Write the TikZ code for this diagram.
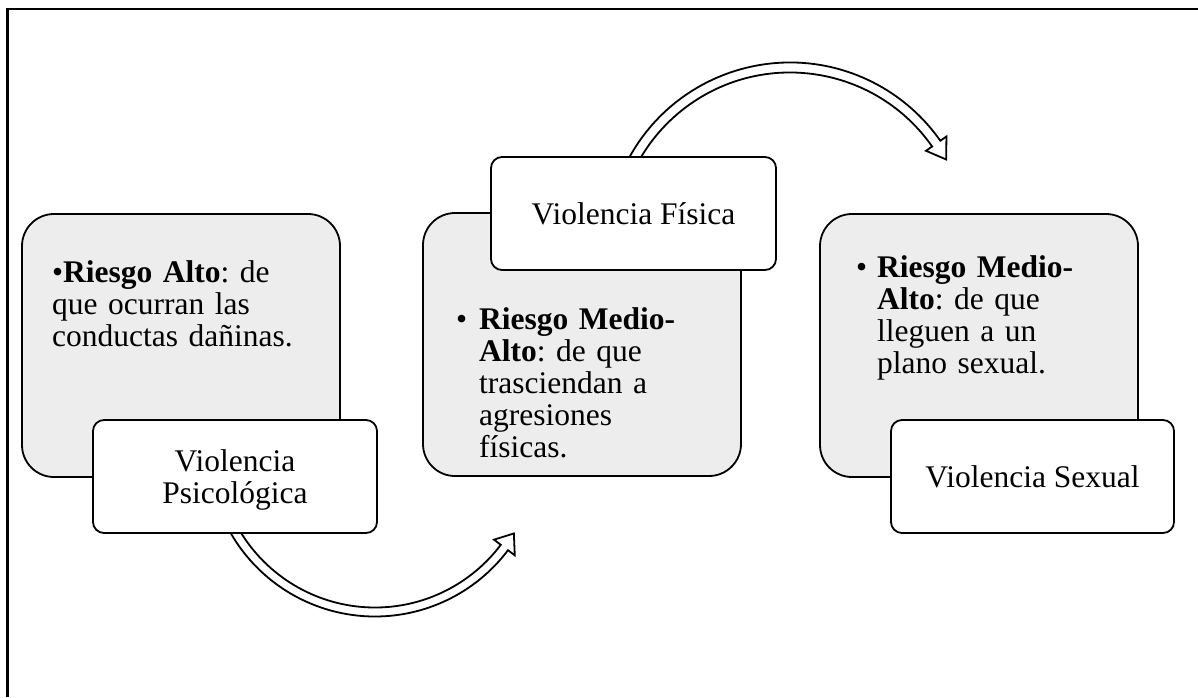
\documentclass[tikz,border=0pt]{standalone}
\usepackage{fontspec}
\setmainfont{Liberation Serif}
\usetikzlibrary{calc}
\definecolor{boxgray}{HTML}{EDEDED}
\frenchspacing
\begin{document}
\begin{tikzpicture}[x=1pt,y=-1pt,
  graybox/.style={draw=black, line width=1.8pt, fill=boxgray, rounded corners=32pt, minimum width=318pt, minimum height=263pt, inner sep=0pt},
  labelbox/.style={draw=black, line width=1.8pt, fill=white, rounded corners=11pt, minimum height=113pt, inner sep=0pt, align=center, font=\fontsize{31.5}{32}\selectfont\frenchspacing},
  bodytext/.style={anchor=base west, inner sep=0pt, text width=300pt, align=left, font=\fontsize{31.5}{32.2}\selectfont\frenchspacing},
  blockarrow/.style={draw=black, line width=1.8pt, fill=white, line join=miter}
]
\useasboundingbox (0,0) rectangle (1198,697);
% page frame
\draw[line width=2.5pt] (7.5,697) -- (7.5,9) -- (1198,9);

% curved block arrows (behind the boxes)
\coordinate (c1) at (375,450);
\coordinate (c2) at (790,246);
\draw[blockarrow] (c1) ++(152:166.5) arc[start angle=152, end angle=37, radius=166.5]
  -- ($(c1)+(37:175)$) -- ($(c1)+(31:162)$) -- ($(c1)+(37:149)$) -- ($(c1)+(37:157.5)$)
  arc[start angle=37, end angle=152, radius=157.5] -- cycle;
\draw[blockarrow] (c2) ++(207:183.5) arc[start angle=207, end angle=325, radius=183.5]
  -- ($(c2)+(325:191)$) -- ($(c2)+(331:178.5)$) -- ($(c2)+(325:166)$) -- ($(c2)+(325:173.5)$)
  arc[start angle=325, end angle=207, radius=173.5] -- cycle;

% gray boxes
\node[graybox] (g1) at (181,345.5) {};
\node[graybox] (g2) at (582,344.5) {};
\node[graybox] (g3) at (979,345.5) {};

% texts in gray boxes
\node[bodytext] (t1) at (52,282) {•\textbf{Riesgo Alto}: de\\que ocurran las\\conductas dañinas.};
\node[bodytext] (t2) at (479,329) {\llap{•\hspace{12pt}}\textbf{Riesgo Medio-}\\\textbf{Alto}: de que\\trasciendan a\\agresiones\\físicas.};
\node[bodytext] (t3) at (877,277) {\llap{•\hspace{10pt}}\textbf{Riesgo Medio-}\\\textbf{Alto}: de que\\lleguen a un\\plano sexual.};

% label boxes
\node[labelbox, minimum width=284pt, text depth=0pt] (l1) at (235,476.5) {Violencia\\Psicológica};
\node[labelbox, minimum width=285pt] (l2) at (633.5,213.5) {Violencia Física};
\node[labelbox, minimum width=283pt] (l3) at (1032.5,476.5) {Violencia Sexual};
\end{tikzpicture}
\end{document}
